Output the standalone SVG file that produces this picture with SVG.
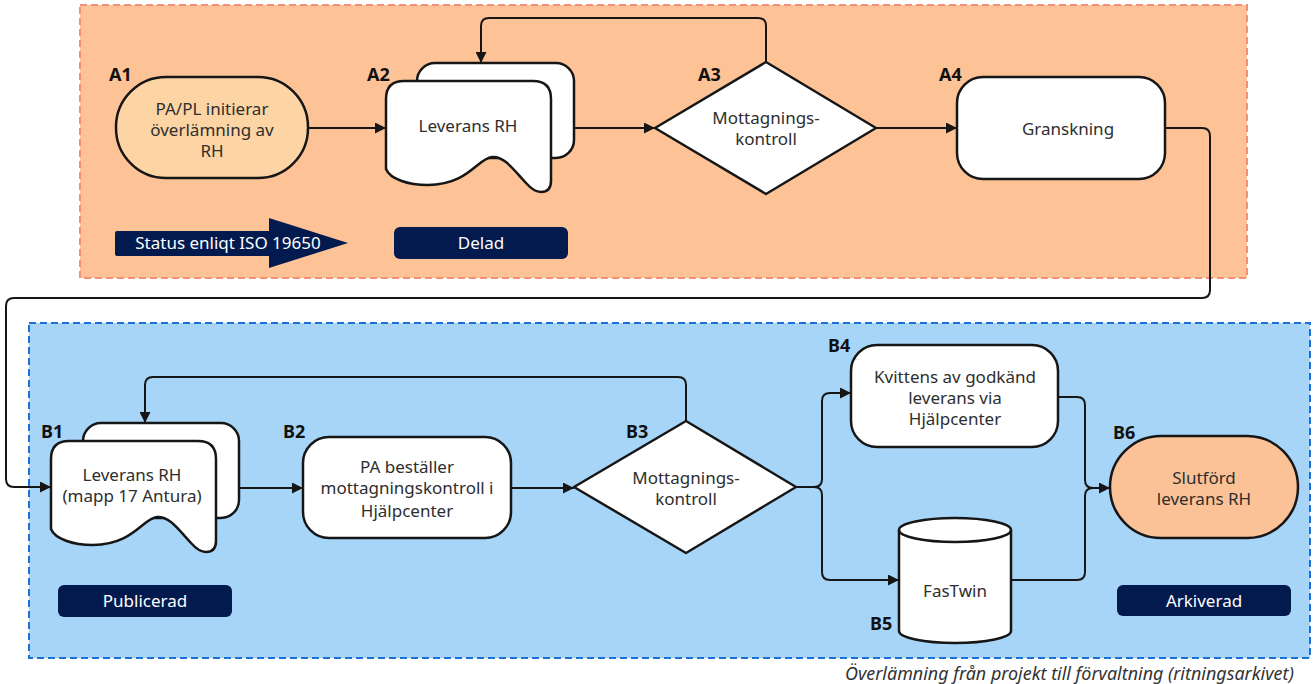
<svg xmlns="http://www.w3.org/2000/svg" width="1314" height="684" viewBox="0 0 1314 684">
<defs>
<style>
.node{stroke:#161616;stroke-width:2.5;stroke-linejoin:round}
.w{fill:#ffffff}
.t{font-family:"Noto Sans","Open Sans",sans-serif;font-size:17px;fill:#2e2e2e;text-anchor:middle}
.lb{font-family:"Noto Sans","Open Sans",sans-serif;font-size:18px;font-weight:bold;fill:#111}
.st{font-family:"Noto Sans","Open Sans",sans-serif;font-size:17px;fill:#ffffff;text-anchor:middle}
.navy{fill:#031a4f}
.conn{fill:none;stroke:#161616;stroke-width:2}
</style>
<marker id="ah" viewBox="0 0 10 10" refX="10" refY="5" markerWidth="11" markerHeight="11" markerUnits="userSpaceOnUse" orient="auto">
<path d="M0 0 L10 5 L0 10 Z" fill="#161616"/>
</marker>
<path id="doc" d="M0 18 Q0 0 18 0 H147 Q165 0 165 18 V100 Q165 111 155 111 Q148 111 140 102 C127 88 118 75 106 76 C92 77 82 104 42 104 C22 104 4 98 0 88 Z"/>
</defs>

<g id="containers">
<rect x="80" y="5" width="1167" height="273" fill="#fdc397" stroke="#f4907a" stroke-width="2" stroke-dasharray="7 4"/>
<rect x="29" y="323" width="1281" height="335" fill="#a7d5f8" stroke="#1a6fd9" stroke-width="2" stroke-dasharray="7 4"/>
<text x="1294" y="680" font-family="'Noto Sans','Open Sans',sans-serif" font-size="18" font-style="italic" fill="#333" text-anchor="end" textLength="449" lengthAdjust="spacingAndGlyphs">Överlämning från projekt till förvaltning (ritningsarkivet)</text>
</g>

<g id="connectors">
<path class="conn" d="M308 128 H386" marker-end="url(#ah)"/>
<path class="conn" d="M574 128 H655" marker-end="url(#ah)"/>
<path class="conn" d="M766 62 V26 Q766 18 758 18 H489 Q481 18 481 26 V63" marker-end="url(#ah)"/>
<path class="conn" d="M876 128 H957" marker-end="url(#ah)"/>
<path class="conn" d="M1165 128 H1202 Q1210 128 1210 136 V290 Q1210 298 1202 298 H14 Q6 298 6 306 V479 Q6 487 14 487 H51" marker-end="url(#ah)"/>
<path class="conn" d="M239 488 H303" marker-end="url(#ah)"/>
<path class="conn" d="M511 488 H574" marker-end="url(#ah)"/>
<path class="conn" d="M686 421 V385 Q686 377 678 377 H153 Q145 377 145 385 V423" marker-end="url(#ah)"/>
<path class="conn" d="M796 487 H814 Q822 487 822 479 V401 Q822 393 830 393 H851" marker-end="url(#ah)"/>
<path class="conn" d="M814 487 Q822 487 822 495 V572 Q822 580 830 580 H899" marker-end="url(#ah)"/>
<path class="conn" d="M1058 397 H1077 Q1085 397 1085 405 V480 Q1085 488 1093 488 H1110" marker-end="url(#ah)"/>
<path class="conn" d="M1011 580 H1077 Q1085 580 1085 572 V496 Q1085 488 1093 488"/>
</g>

<g id="A1">
<rect class="node" x="116" y="77" width="192" height="101" rx="50" fill="#fdd5a5"/>
<text class="lb" x="109" y="81">A1</text>
<text class="t" x="212" y="115">PA/PL initierar</text>
<text class="t" x="212" y="136">överlämning av</text>
<text class="t" x="212" y="157">RH</text>
</g>

<g id="A2">
<rect class="node w" x="417" y="63" width="157" height="95" rx="18"/>
<use href="#doc" class="node w" x="386" y="81"/>
<text class="lb" x="367" y="81">A2</text>
<text class="t" x="468" y="132">Leverans RH</text>
</g>

<g id="A3">
<polygon class="node w" points="766,62 876,128 766,194 655,128"/>
<text class="lb" x="698" y="81">A3</text>
<text class="t" x="766" y="124">Mottagnings-</text>
<text class="t" x="766" y="145">kontroll</text>
</g>

<g id="A4">
<rect class="node w" x="957" y="77" width="208" height="102" rx="26"/>
<text class="lb" x="939" y="81">A4</text>
<text class="t" x="1068" y="135">Granskning</text>
</g>

<g id="status">
<path class="navy" d="M117 231 H269 V218 L348 243 L269 268 V256 H117 Q115 256 115 254 V233 Q115 231 117 231 Z"/>
<text class="st" x="228" y="249">Status enliqt ISO 19650</text>
</g>

<g id="delad">
<rect class="navy" x="394" y="227" width="174" height="32" rx="6"/>
<text class="st" x="481" y="249">Delad</text>
</g>

<g id="B1">
<rect class="node w" x="83" y="423" width="156" height="95" rx="18"/>
<use href="#doc" class="node w" x="51" y="441"/>
<text class="lb" x="41" y="438">B1</text>
<text class="t" x="132" y="481">Leverans RH</text>
<text class="t" x="132" y="502">(mapp 17 Antura)</text>
</g>

<g id="B2">
<rect class="node w" x="303" y="437" width="208" height="101" rx="26"/>
<text class="lb" x="283" y="438">B2</text>
<text class="t" x="407" y="473">PA beställer</text>
<text class="t" x="407" y="494">mottagningskontroll i</text>
<text class="t" x="407" y="517">Hjälpcenter</text>
</g>

<g id="B3">
<polygon class="node w" points="686,421 796,487 686,553 574,487"/>
<text class="lb" x="626" y="438">B3</text>
<text class="t" x="686" y="484">Mottagnings-</text>
<text class="t" x="686" y="505">kontroll</text>
</g>

<g id="B4">
<rect class="node w" x="851" y="345" width="207" height="102" rx="26"/>
<text class="lb" x="828" y="352">B4</text>
<text class="t" x="955" y="383">Kvittens av godkänd</text>
<text class="t" x="955" y="404">leverans via</text>
<text class="t" x="955" y="425">Hjälpcenter</text>
</g>

<g id="B5">
<path class="node w" d="M899 530 A56 12 0 0 1 1011 530 V631 A56 12 0 0 1 899 631 Z"/>
<path class="node" fill="none" d="M899 530 A56 12 0 0 0 1011 530"/>
<text class="lb" x="870" y="630">B5</text>
<text class="t" x="955" y="597">FasTwin</text>
</g>

<g id="B6">
<rect class="node" x="1110" y="436" width="188" height="102" rx="51" fill="#fbc297"/>
<text class="lb" x="1113" y="439">B6</text>
<text class="t" x="1204" y="484">Slutförd</text>
<text class="t" x="1204" y="505">leverans RH</text>
</g>

<g id="publicerad">
<rect class="navy" x="58" y="585" width="174" height="32" rx="6"/>
<text class="st" x="145" y="607">Publicerad</text>
</g>

<g id="arkiverad">
<rect class="navy" x="1117" y="585" width="174" height="31" rx="6"/>
<text class="st" x="1204" y="607">Arkiverad</text>
</g>
</svg>
